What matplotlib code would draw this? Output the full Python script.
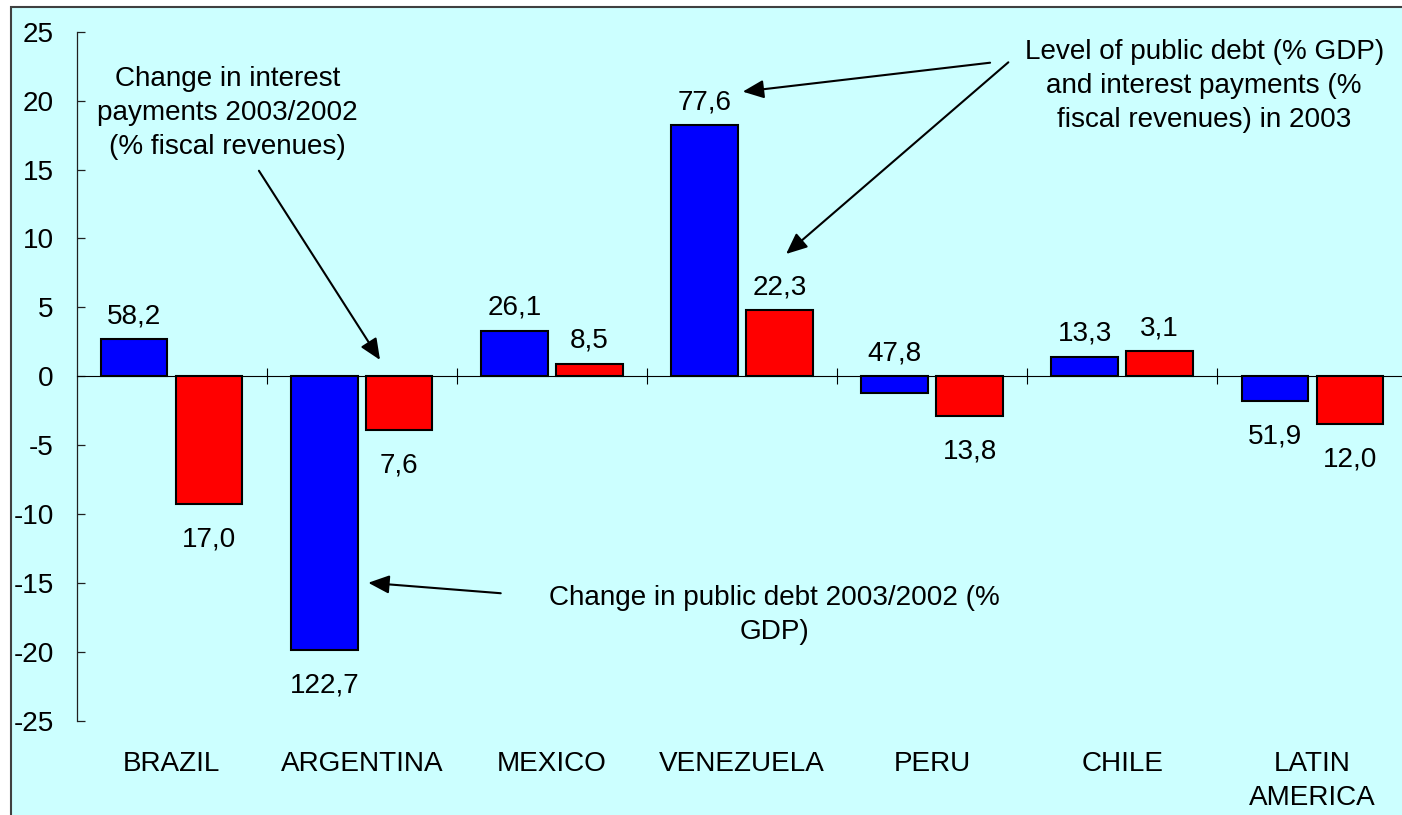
import matplotlib.pyplot as plt
import matplotlib.patches as mpatches
import numpy as np

plt.rcParams['font.family'] = ['Liberation Sans', 'DejaVu Sans']
plt.rcParams['axes.unicode_minus'] = False

countries = ['BRAZIL', 'ARGENTINA', 'MEXICO', 'VENEZUELA', 'PERU', 'CHILE',
             'LATIN\nAMERICA']

# change 2003/2002: public debt (% GDP) and interest payments (% fiscal revenues)
debt_change = [2.7, -19.9, 3.3, 18.2, -1.2, 1.4, -1.8]
interest_change = [-9.3, -3.9, 0.9, 4.8, -2.9, 1.8, -3.5]

# levels in 2003, printed next to the bars
debt_level = [58.2, 122.7, 26.1, 77.6, 47.8, 13.3, 51.9]
interest_level = [17.0, 7.6, 8.5, 22.3, 13.8, 3.1, 12.0]

# which level labels sit above the zero line
debt_label_up = [True, False, True, True, True, True, False]
interest_label_up = [False, False, True, True, False, True, False]

FS = 20.1
LS = 1.42
BG = '#CCFFFF'


def fmt(v):
    return f'{v:.1f}'.replace('.', ',')


def label_bars(ax, xs, vals, levels, up_flags):
    for x, v, lev, up in zip(xs, vals, levels, up_flags):
        if up:
            ax.annotate(fmt(lev), (x, max(v, 0)), xytext=(0, 11.5),
                        textcoords='offset points', ha='center',
                        va='baseline', fontsize=FS)
        else:
            ax.annotate(fmt(lev), (x, min(v, 0)), xytext=(0, -30.5),
                        textcoords='offset points', ha='center',
                        va='baseline', fontsize=FS)


def arrow(ax, tip, start):
    ax.annotate('', xy=tip, xytext=start,
                arrowprops=dict(arrowstyle='-|>,head_length=0.8,head_width=0.35',
                                mutation_scale=16, lw=1.5, color='black',
                                shrinkA=0, shrinkB=0))


def main():
    fig = plt.figure(figsize=(14.02, 8.15), dpi=100)
    fig.patch.set_facecolor('white')
    frame = mpatches.Rectangle((11 / 1402, -0.05), 1.1, 1.05 - 7.5 / 815,
                               transform=fig.transFigure, facecolor=BG,
                               edgecolor='#404040', lw=1.5, zorder=0)
    fig.add_artist(frame)

    ax = fig.add_axes([0.05464, 0.1157, 0.9492, 0.8454])
    ax.patch.set_visible(False)

    x = np.arange(len(countries))
    off, w = 0.197, 0.35
    ax.bar(x - off, debt_change, w, color='#0000FF', edgecolor='black',
           lw=1.5, zorder=3)
    ax.bar(x + off, interest_change, w, color='#FF0000', edgecolor='black',
           lw=1.5, zorder=3)

    label_bars(ax, x - off, debt_change, debt_level, debt_label_up)
    label_bars(ax, x + off, interest_change, interest_level, interest_label_up)

    ax.set_xlim(-0.5, len(countries) - 0.5)
    ax.set_ylim(-25, 25)
    ax.set_yticks(np.arange(-25, 26, 5))
    ax.set_yticklabels([str(v) for v in range(-25, 26, 5)], fontsize=FS)
    ax.tick_params(axis='y', direction='in', length=5.8, width=0.9,
                   color='#202020', pad=16.5)

    ax.set_xticks(np.arange(0.5, len(countries) - 0.5, 1))
    ax.set_xticklabels([])
    ax.tick_params(axis='x', direction='inout', length=12.2, width=0.8)

    ax.spines['bottom'].set_position(('data', 0))
    ax.spines['bottom'].set_linewidth(0.8)
    ax.spines['left'].set_linewidth(0.9)
    ax.spines['left'].set_color('#202020')
    ax.spines['top'].set_visible(False)
    ax.spines['right'].set_visible(False)

    for xi, name in zip(x, countries):
        ax.text(xi, -0.044, name, transform=ax.get_xaxis_transform(),
                ha='center', va='top', fontsize=FS, linespacing=LS)

    # notes with arrows (y is the baseline of the last line)
    ax.text(0.294, 16.09, 'Change in interest\npayments 2003/2002\n(% fiscal revenues)',
            ha='center', va='baseline', fontsize=FS, linespacing=LS)
    arrow(ax, (1.096, 1.18), (0.459, 14.91))

    ax.text(5.431, 18.06, 'Level of public debt (% GDP)\nand interest payments (%\n'
            'fiscal revenues) in 2003',
            ha='center', va='baseline', fontsize=FS, linespacing=LS)
    arrow(ax, (3.004, 20.65), (4.305, 22.75))
    arrow(ax, (3.232, 8.87), (4.401, 22.78))

    ax.text(3.171, -19.07, 'Change in public debt 2003/2002 (%\nGDP)',
            ha='center', va='baseline', fontsize=FS, linespacing=LS)
    arrow(ax, (1.034, -14.99), (1.731, -15.75))

    fig.savefig('out.png', dpi=100)


if __name__ == '__main__':
    main()
